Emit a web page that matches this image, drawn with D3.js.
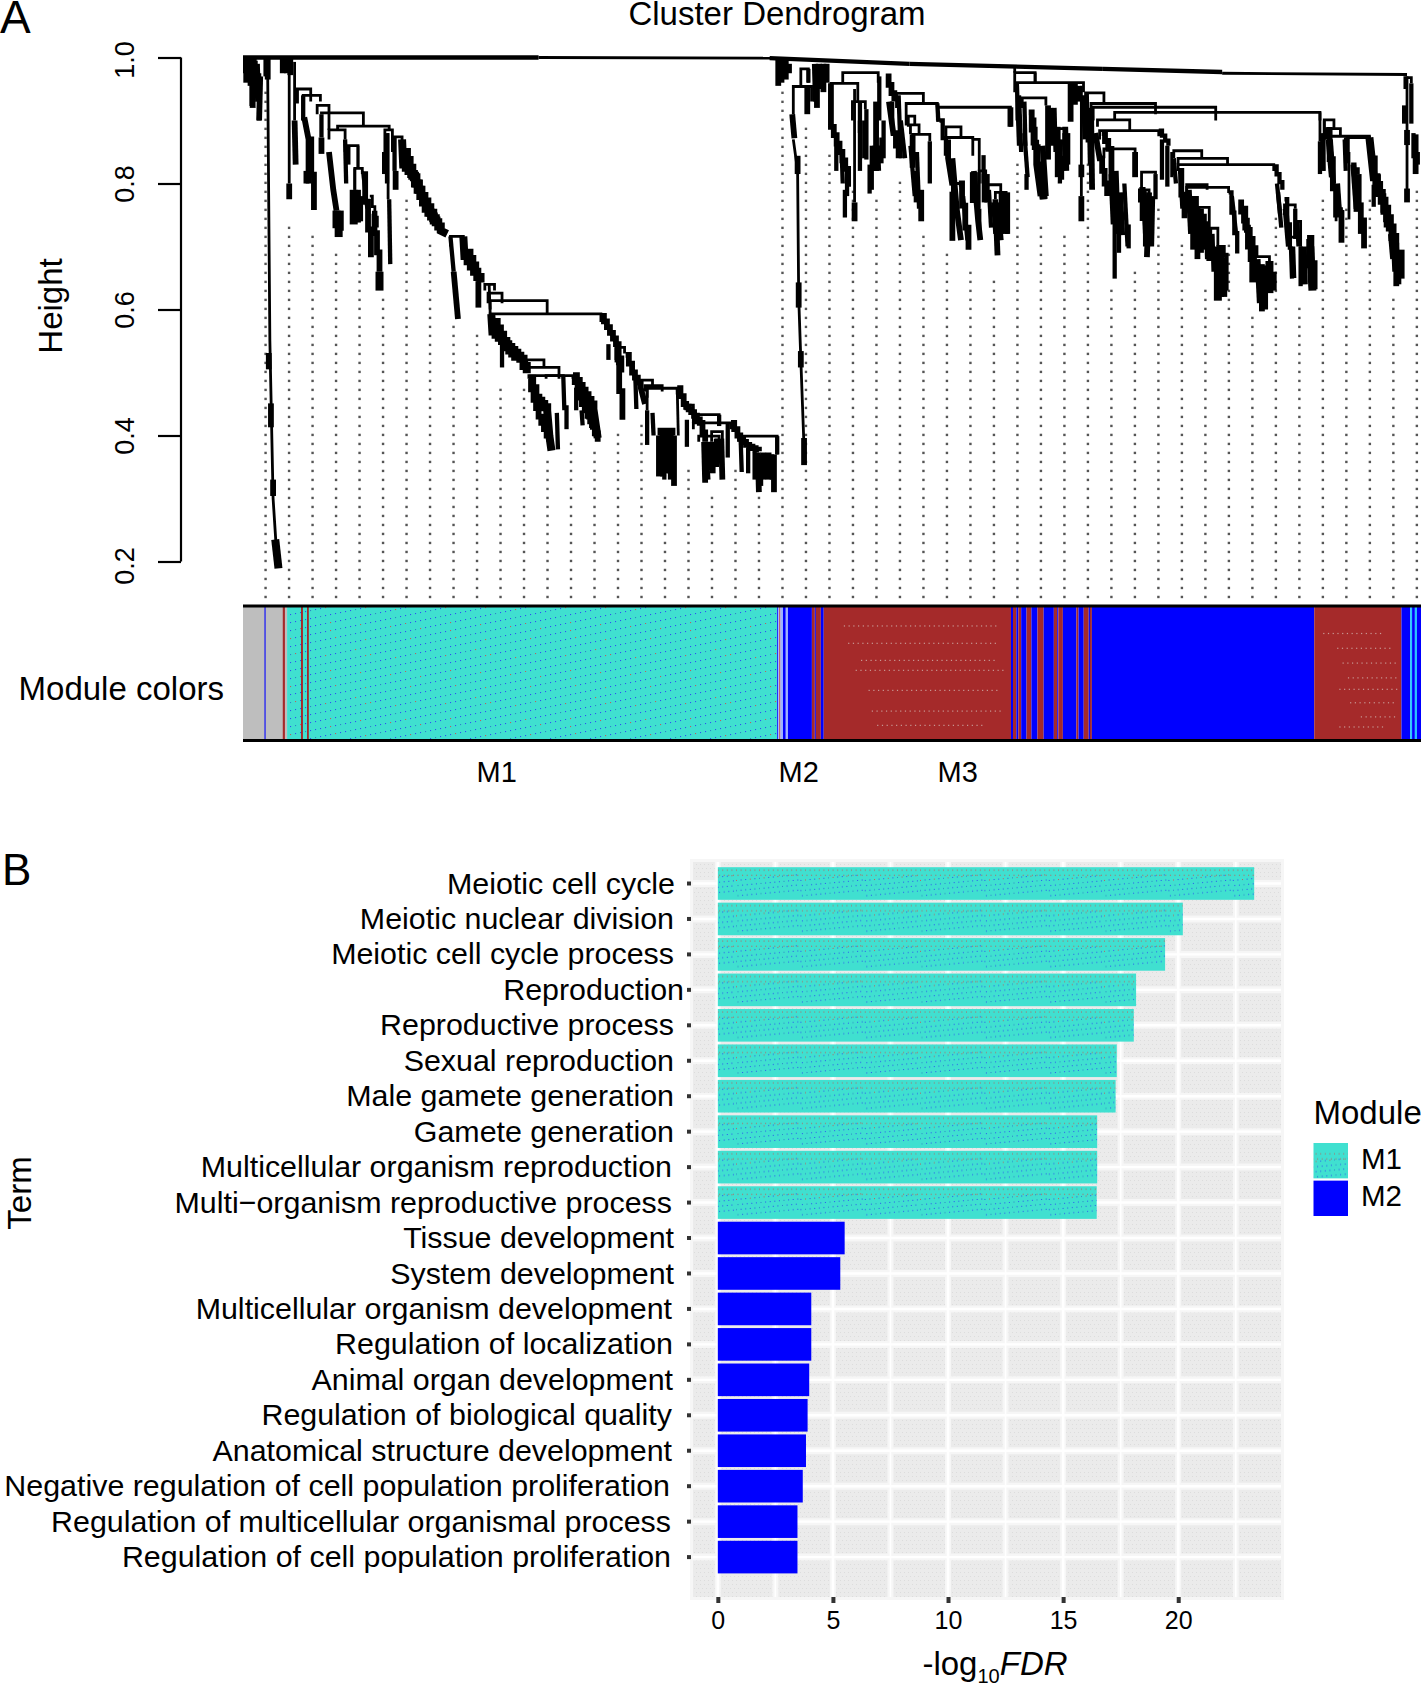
<!DOCTYPE html>
<html><head><meta charset="utf-8">
<script src="https://cdn.jsdelivr.net/npm/d3@7"></script>
<style>
html,body{margin:0;padding:0;background:#fff}
svg{display:block}
text{font-family:"Liberation Sans",Arial,sans-serif;fill:#000}
</style></head><body><svg id="c" width="1421" height="1686"></svg>
<script>
// ---------- Panel A data: height axis, leaf-rank axis ----------
const heightTicks=[0.2,0.4,0.6,0.8,1.0];
const moduleLabels=[["M1",236],["M2",517],["M3",665]];
// first height of each dotted guide line
const guideTops=[.947,.743,.729,.700,.715,.629,.786,.715,.586,.571,.482,.482,.367,.396,.381,.410,.425,.310,.353,.310,.353,.310,.947,.887,.858,.801,.786,.815,.729,.700,.672,.657,.830,.743,.729,.830,.643,.672,.772,.715,.643,.715,.600,.758,.614,.786,.772,.786,.629,.801];
// U links: [rankLeft, rankRight, mergeHeight, leftDrop, rightDrop]
const links=[
[50,63,.95,.93,.93],[56,72,.94,.9,.93],[69,80,.924,.91,.885],[73,112,.912,.91,.891],[88,136,.891,.885,.885],[80,95,.885,.87,.87],[95,107,.86,.85,.825],[104,111,.824,.79,.815],[132,139,.885,.85,.875],[139,148,.874,.85,.86],
[193,205,.716,.7,.69],[225,234,.64,.63,.63],[228,241,.626,.61,.61],[230,283,.614,.6,.594],[230,333,.593,.58,.58],[264,280,.52,.5,.51],[264,294,.508,.5,.49],[266,307,.495,.49,.49],[282,298,.495,.49,.49],
[347,355,.54,.52,.53],[369,381,.488,.48,.48],[374,390,.479,.47,.47],[376,404,.475,.46,.465],[387,401,.41,.4,.4],[412,419,.448,.44,.43],[419,443,.433,.42,.415],[419,454,.42,.41,.41],[424,443,.399,.39,.39],[461,497,.399,.39,.37],[436,446,.406,.39,.39],
[512,529,.954,.91,.93],[519,526,.982,.954,.96],
[558,591,.976,.96,.96],[547,572,.959,.9,.93],[567,579,.93,.9,.918],[608,633,.943,.92,.927],[617,646,.927,.892,.921],[619,625,.907,.89,.892],[621,629,.893,.878,.878],[623,639,.878,.825,.867],[646,714,.921,.9,.89],[654,668,.89,.873,.873],[654,679,.873,.86,.87],[679,685,.87,.844,.85],[660,668,.80,.78,.79],[691,705,.798,.77,.786],[700,710,.786,.775,.72],[685,691,.82,.8,.8],
[718,737,.976,.945,.96],[720,782,.96,.9,.945],[725,747,.936,.92,.924],[758,766,.887,.87,.87],[784,801,.944,.92,.927],[789,849,.927,.9,.91],[791,905,.921,.9,.9],[811,1002,.913,.9,.9],[795,825,.901,.89,.885],[797,852,.884,.87,.875],[801,830,.855,.84,.85],[836,849,.818,.79,.815],[834,843,.79,.77,.77],[866,892,.852,.84,.84],[870,916,.84,.83,.83],[870,959,.83,.82,.82],[878,897,.798,.78,.79],[878,917,.794,.78,.785],[942,955,.684,.67,.677],[969,979,.766,.75,.76],[979,984,.74,.72,.70],
[1006,1015,.901,.87,.887],[1008,1021,.887,.87,.875],[1011,1048,.875,.86,.873],[1027,1048,.873,.86,.86],[1081,1087,.968,.95,.959],
[884,888,.778,.76,.76],[888,899,.762,.74,.729],[899,907,.729,.7,.7],[907,913,.70,.68,.683],[974,984,.715,.70,.70],[1017,1022,.76,.74,.75]
];
// Trunks, polylines [rank,height,rank,height,...] by drawn weight
const trunksThin=[
[275,1,504,.999],[911,.975,1083,.973],[23,.967,25,.55,28,.3,31,.22],[43,.975,43,.8],[48,.993,48,.9],[512,.87,516,.82,517,.62,519,.52,522,.38],[780,.955,780,.78],[1083,.97,1083,.78],[1029,.85,1029,.743],[569,.95,569,.77],[1002,.913,1002,.867],[864,.85,864,.81],[685,.85,685,.76],[1006,.9,1006,.82],
[229,.64,230,.593],[135,.88,135,.775],[107,.86,107,.825],[376,.475,376,.44],[347,.54,347,.516],[718,.985,718,.976],[118,.78,125,.73],[541,.96,541,.95],[737,.976,737,.96],[104,.824,104,.79],[111,.82,115,.76],[404,.475,405,.4]
];
const trunksMedium=[
[0,1,275,1],[490,.999,620,.99],[620,.99,800,.982],[800,.982,911,.977],
[2,.999,2,.975],[21,.999,21,.97],[15,.975,15,.9],[8,.975,8,.923],[73,.91,73,.873],[56,.94,56,.9],[95,.87,96,.8],[98,.86,98,.83],[134,.88,134,.8],[141,.874,141,.82],[136,.775,137,.672],[50,.95,50,.927],[193,.716,196,.66],[241,.545,241,.508],[292,.436,293,.378],[298,.494,299,.44],[301,.448,301,.41],[315,.44,316,.416],[310,.476,310,.44],[340,.545,340,.52],[365,.494,366,.442],[376,.44,376,.385],[381,.436,382,.4],[413,.425,413,.382],[443,.433,443,.415],[451,.42,451,.365],[497,.399,497,.37],[463,.395,464,.342],[441,.395,441,.35],
[392,.38,392,.33],[396,.38,396,.34],[431,.38,433,.33],[440,.395,440,.35],[470,.38,470,.34],[476,.375,476,.33],[482,.37,482,.32],[492,.37,492,.33],
[526,.982,526,.96],[560,.79,560,.746],[574,.9,574,.82],[580,.918,580,.838],[583,.83,583,.784],[594,.873,594,.832],[604,.93,604,.89],[610,.94,612,.84],[626,.82,626,.77],[639,.867,639,.8],[646,.927,647,.898],[648,.9,654,.844],[729,.815,729,.79],[720,.96,722,.86],[727,.93,728,.86],[762,.844,762,.806],[785,.945,786,.865],[824,.735,824,.697],[849,.815,849,.775],[852,.884,861,.86],[855,.87,855,.806],[860,.86,860,.795],[959,.827,967,.79],[963,.786,966,.73],[969,.775,974,.695],[975,.7,976,.649],[979,.76,979,.712],[984,.7,984,.637],[917,.786,925,.689],[811,.74,811,.649],[1002,.867,1002,.815],[1012,.87,1015,.8],[1031,.83,1037,.815],[1052,.798,1052,.763],[1087,.959,1087,.895],[685,.76,685,.72],[689,.845,689,.8],[705,.786,706,.72],
[552,.88,552,.82],[557,.85,558,.8],[562,.82,562,.78],[574,.93,574,.88],[578,.9,578,.84],[585,.86,585,.79],[592,.97,592,.9],[596,.9,596,.84],[612,.9,616,.84],[621,.86,625,.78],[627,.85,629,.76],[670,.78,674,.71],[694,.79,696,.73],[698,.77,700,.72],[708,.77,711,.72],[722,.94,724,.85],[727,.88,730,.81],[752,.92,753,.86],[755,.92,756,.85],[761,.87,760,.8],[782,.94,783,.87],[787,.92,788,.83],[820,.8,823,.7],[815,.78,815,.69],[866,.84,868,.8],[872,.82,874,.76],[892,.76,892,.69],[896,.74,897,.68],[902,.72,903,.66],[915,.69,915,.63],[920,.78,924,.72],[962,.8,965,.75],[977,.7,978,.65],[981,.74,982,.7],[1004,.88,1005,.82],[1025,.87,1026,.82],[1089,.88,1089,.84],[1093,.85,1093,.83]
];
const trunksHeavy=[
[3,.995,3,.96],[7,.995,7,.955],[11,.995,11,.95],[13,.99,14,.93],[16,.97,15,.9],[9,.96,9,.92],
[6,.999,6,.975],[10,.999,10,.97],[23,.999,23,.965],[24,.531,24,.505],[26,.451,26,.413],[28,.33,28,.304],[37,.999,37,.975],[41,.999,41,.975],[44,.999,44,.972],[73,.873,73,.847],[57,.905,61,.87,61,.8],[61,.87,66,.758],[59,.82,59,.8],[48,.9,49,.83],[43,.8,43,.775],[80,.85,84,.79,87,.757],[111,.815,119,.683],[120,.752,127,.66],[132,.85,132,.815],[142,.82,142,.79],[196,.66,200,.585],[219,.645,219,.603],[333,.59,347,.545,352,.5],[347,.516,353,.425],[356,.528,362,.5,370,.476,374,.45],[404,.475,410,.45,417,.437,425,.42,430,.39],[454,.42,460,.4,468,.385,480,.375],[433,.39,433,.345],[437,.39,437,.34],[445,.395,446,.33],[429,.39,430,.325],[387,.4,387,.335],[390,.41,391,.335],[394,.41,394,.34],[398,.41,398,.33],[401,.4,401,.32],[479,.373,480,.31],[484,.373,484,.33],[489,.373,489,.33],[494,.37,494,.31],[487,.37,487,.34],
[268,.47,275,.43,285,.39],[310,.47,318,.44,328,.405],[314,.47,322,.43,330,.39],
[498,.997,498,.955],[501,.997,501,.96],[505,.997,505,.965],[508,.99,508,.975],[511,.91,513,.872],[516,.844,516,.815],[517,.643,517,.603],[519,.534,519,.508],[522,.396,522,.353],[525,.954,525,.91],[532,.99,533,.93],[536,.99,536,.95],[540,.99,540,.945],[534,.95,534,.92],[543,.99,543,.96],
[547,.959,547,.89,563,.81,563,.795],[569,.77,569,.74],[589,.93,589,.82],[598,.97,606,.93],[601,.93,605,.88,610,.84],[623,.878,623,.825],[631,.79,631,.74],[714,.921,714,.89],[656,.87,656,.84,660,.797],[660,.787,660,.709],[666,.8,675,.695],[660,.84,664,.76,668,.71],[680,.82,684,.74,686,.71],[702,.77,705,.71],[700,.775,702,.686],[731,.913,745,.775],[733,.9,738,.83,742,.78],[744,.86,747,.78],[749,.924,749,.838],[758,.89,758,.81],[765,.89,766,.82],[770,.96,770,.898],[774,.96,774,.925],[778,.955,778,.93],[780,.78,780,.74],[780,.83,780,.81],[789,.92,790,.79],[793,.88,797,.84,804,.78],[799,.88,805,.855,811,.74],[812,.82,814,.72],[816,.786,818,.718],[808,.815,810,.735],[830,.85,830,.81],[834,.79,840,.7],[838,.79,840,.72],[846,.78,845,.7],[843,.786,841,.683],[870,.82,876,.745],[880,.79,882,.72],[886,.78,886,.7],[926,.77,942,.683],[930,.76,935,.7,940,.66],[948,.672,948,.597],[944,.68,946,.61],[951,.67,951,.6],[884,.778,884,.695],[888,.763,888,.68],[894,.752,894,.695],[899,.729,899,.677],[910,.7,910,.62],[913,.683,913,.62],[970,.76,973,.7],[987,.7,988,.64],[1008,.885,1017,.746],[1010,.87,1013,.81],[1018,.8,1020,.75],[1022,.758,1022,.706],[1027,.873,1027,.832],[1033,.83,1036,.76],[1040,.77,1040,.72],[1043,.746,1043,.697],[1050,.84,1056,.78],[1058,.78,1064,.73],[1068,.72,1070,.68],[1073,.706,1073,.637],[1075,.69,1075,.64],[1081,.924,1081,.895],[1083,.885,1083,.861],[1083,.792,1083,.77],[1091,.878,1091,.815]
];
const trunksThick=[
[30,.235,33,.189],[87,.757,87,.729],[90,.757,90,.725],[89,.75,89,.715],[103,.79,103,.735],[106,.79,106,.738],[108,.78,108,.74],[127,.66,127,.63],
[148,.87,149,.83,159,.81,166,.78,177,.745,184,.725,190,.72],[150,.85,160,.8,170,.76,180,.735],[205,.716,206,.685,221,.643],[208,.69,216,.66],[231,.593,232,.565,244,.545,258,.522,264,.499],[233,.58,245,.54,256,.52],[266,.49,272,.46,283,.44,285,.4,287,.376],[307,.494,315,.471,326,.442,330,.396],
[743,.8,745,.775],[680,.818,680,.769],[691,.815,691,.77],[710,.786,710,.72],[589,.86,590,.82],[766,.88,766,.83],[907,.7,907,.614],[940,.677,940,.643],[955,.677,955,.626],[990,.712,996,.632],[993,.7,995,.63],[958,.66,958,.63],[1037,.815,1037,.755],[1048,.873,1052,.81,1062,.76,1072,.7,1073,.66],[1077,.695,1077,.649]
];
// Module colour strip: [rankStart, rankEnd, module]
const stripes=[[0,41,"grey"],[20,21,"M2"],[37,39,"M3"],[41,497,"M1"],[54,55.6,"M3"],[59.6,61,"M3"],[497,498,"M2"],[498,499,"pale"],[499,500,"M3"],[500,502.4,"pale"],[502.4,505,"M2"],[505,507,"pale"],[507,529.3,"M2"],[529.3,532,"M3"],[532,533,"M2"],[533,537.6,"M3"],[537.6,540.3,"M2"],[540.3,714.5,"M3"],[714.5,716.4,"M2"],[716.4,719.5,"M3"],[719.5,721.4,"M2"],[721.4,724,"M3"],[724,729,"M2"],[729,733.5,"M3"],[733.5,739.2,"M2"],[739.2,744.9,"M3"],[744.9,754.4,"M2"],[754.4,757.5,"M3"],[757.5,758.6,"M2"],[758.6,762.8,"M3"],[762.8,775.4,"M2"],[775.4,777.3,"M3"],[777.3,782.2,"M2"],[782.2,786.8,"M3"],[786.8,788,"M2"],[788,789.8,"M3"],[789.8,996.7,"M2"],[996.7,1077.8,"M3"],[1077.8,1086,"M2"],[1086,1087.7,"cyan"],[1087.7,1090.3,"M2"],[1090.3,1092.2,"cyan"],[1092.2,1096,"M2"]];
// faint dotted rows inside the brown blocks: [rankStart, rankEnd, fraction of strip height]
const brownRows=[[559,704,.144],[563,703,.273],[575,702,.4],[570,707,.474],[582,704,.623],[585,704,.777],[590,687,.883],[1005,1060,.2],[1018,1070,.31],[1023,1075,.42],[1028,1075,.53],[1020,1075,.615],[1030,1072,.715],[1040,1074,.82],[1020,1060,.895]];
const moduleColor={grey:"#BEBEBE",M1:"#40E0D0",M2:"#0000FF",M3:"#A52A2A",pale:"#9fb4ff",cyan:"#22c8ff"};
// ---------- Panel B data ----------
const terms=["Meiotic cell cycle","Meiotic nuclear division","Meiotic cell cycle process","Reproduction","Reproductive process","Sexual reproduction","Male gamete generation","Gamete generation","Multicellular organism reproduction","Multi\u2212organism reproductive process","Tissue development","System development","Multicellular organism development","Regulation of localization","Animal organ development","Regulation of biological quality","Anatomical structure development","Negative regulation of cell population proliferation","Regulation of multicellular organismal process","Regulation of cell population proliferation"];
const fdrValues=[23.3,20.2,19.43,18.17,18.07,17.33,17.28,16.48,16.48,16.46,5.51,5.32,4.06,4.06,3.97,3.9,3.83,3.69,3.46,3.46];
const termModules=["M1","M1","M1","M1","M1","M1","M1","M1","M1","M1","M2","M2","M2","M2","M2","M2","M2","M2","M2","M2"];
const termNudge=[1,0,0,10,0,0,0,0,-2,-2,0,0,-2,-1,-1,-2,-2,-4,-3,-3];
const fdrTicks=[0,5,10,15,20];
const legendItems=["M1","M2"];

const svg=d3.select("#c"), defs=svg.append("defs");
const FONT=30.4;
// ---- textures ----
function dotPattern(id,w,h,bg,dots){
  const p=defs.append("pattern").attr("id",id).attr("patternUnits","userSpaceOnUse").attr("width",w).attr("height",h);
  p.append("rect").attr("width",w).attr("height",h).attr("fill",bg);
  p.selectAll("rect.d").data(dots).join("rect").attr("class","d").attr("x",d=>d[0]).attr("y",d=>d[1]).attr("width",d=>d[3]||1.1).attr("height",d=>d[3]||1.1).attr("fill",d=>d[2]);
  return p;
}
const teal=moduleColor.M1, bl="#2a55f0", br="#b8635c", dk="#2c86c8";
const stripDots=[];
for(let r=0;r<6;r++)for(let c=0;c<24;c++){
  const x=c*5, y=(r*8+48-c)%48;
  const col=((r*5+c*7)%17===0||(r*3+c*11)%23===0)?br:((r+c*3)%7===0?dk:bl);
  stripDots.push([x,y,col]);
}
dotPattern("tealStrip",120,48,teal,stripDots);
const barDots=[];
for(let r=0;r<6;r++)for(let c=0;c<40;c++){
  const saw=r<2?0:(c%14)*0.42;
  const x=c*4.6+(r%2)*1.5, y=(3.5+r*5.1-saw+35.47)%35.47;
  const col=r<2?br:(r===2&&c%3===0?br:(c%5===0?dk:bl));
  barDots.push([x,y,col,1]);
}
const barPattern=dotPattern("tealBar",184,35.45,teal,barDots);
const grayDots=[];
for(let r=0;r<3;r++)for(let c=0;c<3;c++)grayDots.push([c*4+(r%2)*2,r*4,"#dcdcdc",1]);
dotPattern("grayPanel",12,12,"#ebebeb",grayDots);

// ========= Panel A =========
const xRank=d3.scaleLinear().domain([0,1096]).range([243,1421]);
const yH=d3.scaleLinear().domain([0.2,1.0]).range([561.5,57.5]);
const gA=svg.append("g");
// guide dots
const guideX=d3.range(guideTops.length).map(i=>21+21.86*i);
const guideDots=[];
guideTops.forEach((t,i)=>{for(let h=.1437;h<=t;h+=.01429)guideDots.push([guideX[i],h]);});
gA.append("g").selectAll("rect").data(guideDots).join("rect").attr("x",d=>xRank(d[0])-1.2).attr("y",d=>yH(d[1])-1.2).attr("width",2.4).attr("height",2.4).attr("fill","#555");
// tree: slanted trunks are drawn as the small steps a dendrogram makes
const line=d3.line();
function polyPts(a){
  const pts=[[xRank(a[0]),yH(a[1])]];
  for(let i=2;i<a.length;i+=2){
    const [x0,y0]=pts[pts.length-1], x1=xRank(a[i]), y1=yH(a[i+1]);
    const n=Math.max(1,Math.round(Math.abs(x1-x0)/3));
    if(n===1||Math.abs(y1-y0)<6){pts.push([x1,y1]);continue;}
    for(let k=1;k<=n;k++){
      pts.push([x0+(x1-x0)*k/n,y0+(y1-y0)*(k-1)/n]);
      pts.push([x0+(x1-x0)*k/n,y0+(y1-y0)*k/n]);
    }
  }
  return pts;
}
const tree=gA.append("g").attr("fill","none").attr("stroke","#000").attr("stroke-linejoin","miter").attr("stroke-linecap","butt");
[[trunksThin,2.8],[trunksMedium,4.3],[trunksHeavy,5.8],[trunksThick,8]].forEach(([arr,w])=>{
  tree.append("g").attr("stroke-width",w).selectAll("path").data(arr).join("path").attr("d",d=>line(polyPts(d)));
});
tree.append("g").attr("stroke-width",2.8).selectAll("path").data(links).join("path")
  .attr("d",d=>line([[xRank(d[0]),yH(d[3])],[xRank(d[0]),yH(d[2])],[xRank(d[1]),yH(d[2])],[xRank(d[1]),yH(d[4])]]));
// y axis
const axA=gA.append("g").attr("transform","translate(181,0)").call(d3.axisLeft(yH).tickValues(heightTicks).tickFormat(d3.format(".1f")).tickSize(23).tickPadding(23).tickSizeOuter(0));
axA.selectAll("path.domain").attr("stroke-width",2.2).attr("d",`M0,${yH(1)}V${yH(.2)}`);
axA.selectAll("line").attr("stroke-width",2.2);
axA.selectAll("text").attr("font-size",27).attr("text-anchor","middle").attr("dy",0).attr("x",0).attr("y",0)
  .attr("transform",function(d){return `translate(-47,${d===1?2:(d===.2?4:0)}) rotate(-90)`;}).style("font-family",'"Liberation Sans"');
gA.append("text").attr("transform","translate(62,306) rotate(-90)").attr("text-anchor","middle").attr("font-size",33).text("Height");
gA.append("text").attr("x",777).attr("y",25).attr("text-anchor","middle").attr("font-size",33).text("Cluster Dendrogram");
gA.append("text").attr("x",0).attr("y",33).attr("font-size",46).text("A");
// colour strip
const stripTop=606, stripH=134.5;
const stripG=gA.append("g");
const isInTeal=d=>d[0]===54||d[0]===59.6;
stripG.selectAll("rect").data(stripes).join("rect")
  .attr("x",d=>xRank(d[0])).attr("width",d=>Math.max(0.5,xRank(d[1])-xRank(d[0])))
  .attr("y",stripTop).attr("height",stripH)
  .attr("fill",d=>d[2]==="M1"?"url(#tealStrip)":moduleColor[d[2]]);
stripG.append("g").selectAll("rect").data(stripes.filter(isInTeal)).join("rect")
  .attr("x",d=>xRank(d[0])).attr("width",d=>xRank(d[1])-xRank(d[0])).attr("y",stripTop).attr("height",stripH).attr("fill",d=>moduleColor[d[2]]);
const rowDots=[];
brownRows.forEach(b=>{for(let r=b[0];r<=b[1];r+=4.4)rowDots.push([r,b[2]]);});
stripG.append("g").selectAll("rect").data(rowDots).join("rect").attr("x",d=>xRank(d[0])).attr("y",d=>stripTop+d[1]*stripH).attr("width",1.2).attr("height",1.2).attr("fill","#c99a96");
[606,740.5].forEach(y=>gA.append("line").attr("x1",xRank(0)).attr("x2",xRank(1096)).attr("y1",y).attr("y2",y).attr("stroke","#000").attr("stroke-width",3));
gA.append("text").attr("x",224).attr("y",700).attr("text-anchor","end").attr("font-size",33).text("Module colors");
gA.append("g").selectAll("text").data(moduleLabels).join("text").attr("x",d=>xRank(d[1])).attr("y",782).attr("text-anchor","middle").attr("font-size",29).text(d=>d[0]);

// ========= Panel B =========
const gB=svg.append("g");
const xF=d3.scaleLinear().domain([-1.165,24.465]).range([691,1281]);
const yT=d3.scaleBand().domain(terms).range([867.2,1573.4]).paddingInner(.08);
const panelTop=862,panelBot=1597,panelL=693,panelR=1281;
const xMinor=d3.range(2.5,25,5);
gB.append("rect").attr("x",panelL-3).attr("y",panelTop-3).attr("width",panelR-panelL+6).attr("height",panelBot-panelTop+6).attr("fill","#f6f6f6");
gB.append("rect").attr("x",panelL).attr("y",panelTop).attr("width",panelR-panelL).attr("height",panelBot-panelTop).attr("fill","url(#grayPanel)");
const grid=gB.append("g");
const vLines=[...fdrTicks.map(v=>[v,2.6]),...xMinor.map(v=>[v,1.6])];
grid.selectAll("line.vh").data(vLines).join("line").attr("class","vh").attr("x1",d=>xF(d[0])).attr("x2",d=>xF(d[0])).attr("y1",panelTop).attr("y2",panelBot).attr("stroke","#f6f6f6").attr("stroke-width",6);
grid.selectAll("line.hh").data(terms).join("line").attr("class","hh").attr("x1",panelL).attr("x2",panelR).attr("y1",d=>yT(d)+yT.bandwidth()/2).attr("y2",d=>yT(d)+yT.bandwidth()/2).attr("stroke","#f6f6f6").attr("stroke-width",7);
grid.selectAll("line.v").data(vLines).join("line").attr("class","v").attr("x1",d=>xF(d[0])).attr("x2",d=>xF(d[0])).attr("y1",panelTop).attr("y2",panelBot).attr("stroke","#fff").attr("stroke-width",d=>d[1]);
grid.selectAll("line.h").data(terms).join("line").attr("class","h").attr("x1",panelL).attr("x2",panelR).attr("y1",d=>yT(d)+yT.bandwidth()/2).attr("y2",d=>yT(d)+yT.bandwidth()/2).attr("stroke","#fff").attr("stroke-width",2.4);
barPattern.attr("y",yT(terms[0])-1);
gB.append("g").selectAll("rect").data(terms).join("rect")
  .attr("x",xF(0)).attr("y",d=>yT(d)).attr("height",yT.bandwidth())
  .attr("width",(d,i)=>xF(fdrValues[i])-xF(0))
  .attr("fill",(d,i)=>termModules[i]==="M1"?"url(#tealBar)":moduleColor.M2);
const axL=gB.append("g").attr("transform",`translate(${panelL-2},0)`).call(d3.axisLeft(yT).tickSize(4).tickPadding(13));
axL.select(".domain").remove();
axL.selectAll("line").attr("stroke","#333").attr("stroke-width",4);
axL.selectAll("text").attr("font-size",FONT).attr("dy","0.33em").attr("dx",(d,i)=>termNudge[i]).style("font-family",'"Liberation Sans"');
const axB=gB.append("g").attr("transform",`translate(0,${panelBot})`).call(d3.axisBottom(xF).tickValues(fdrTicks).tickSize(6).tickPadding(8));
axB.select(".domain").remove();
axB.selectAll("line").attr("stroke","#333").attr("stroke-width",4);
axB.selectAll("text").attr("font-size",25).style("font-family",'"Liberation Sans"');
gB.append("text").attr("transform","translate(31,1193) rotate(-90)").attr("text-anchor","middle").attr("font-size",33).text("Term");
gB.append("text").attr("x",2).attr("y",885).attr("font-size",44).text("B");
const xl=gB.append("text").attr("x",995).attr("y",1675).attr("text-anchor","middle").attr("font-size",33);
xl.append("tspan").text("-log");
xl.append("tspan").attr("font-size",20).attr("dy",8).text("10");
xl.append("tspan").attr("dy",-8).attr("font-style","italic").text("FDR");
// legend
gB.append("text").attr("x",1313.5).attr("y",1124).attr("font-size",33).text("Module");
const lg=gB.append("g").selectAll("g").data(legendItems).join("g");
const legY=d3.scaleBand().domain(legendItems).range([1143,1216]).paddingInner(.06);
lg.append("rect").attr("x",1313.5).attr("width",34.5).attr("y",d=>legY(d)).attr("height",legY.bandwidth()).attr("fill",d=>d==="M1"?"url(#tealBar)":moduleColor.M2);
lg.append("text").attr("x",1361).attr("y",d=>legY(d)+legY.bandwidth()/2+8).attr("font-size",29.5).text(d=>d);
</script></body></html>
